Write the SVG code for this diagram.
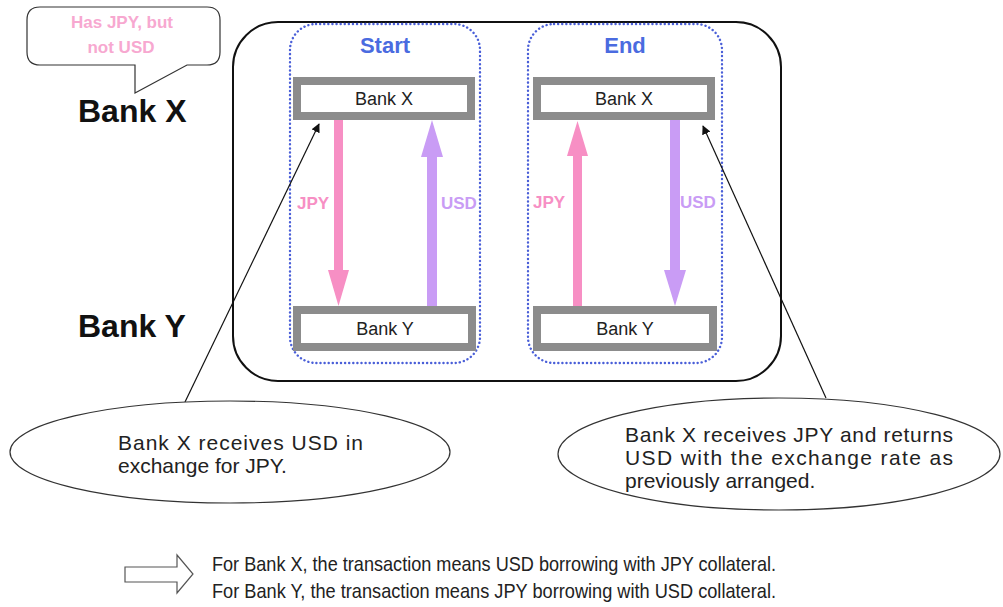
<svg xmlns="http://www.w3.org/2000/svg" width="1003" height="607" viewBox="0 0 1003 607">
<style>
.bank{fill:#fff;stroke:#8c8c8c;stroke-width:8}
.grp{fill:none;stroke:#4a5fd8;stroke-width:2.4;stroke-dasharray:0.1 4;stroke-linecap:round}
.title{font-family:"Liberation Sans",Arial,sans-serif;font-weight:bold;font-size:22px;fill:#4a6be0;text-anchor:middle}
.bt{font-family:"Liberation Sans",Arial,sans-serif;font-size:18px;fill:#222;text-anchor:middle}
.big{font-family:"Liberation Sans",Arial,sans-serif;font-weight:bold;font-size:32px;fill:#111}
.cur{font-family:"Liberation Sans",Arial,sans-serif;font-weight:bold;font-size:17px}
.pink{fill:#f78fc4}
.purp{fill:#c99cf5}
.note{font-family:"Liberation Sans",Arial,sans-serif;font-size:21px;fill:#222}
.ptr{stroke:#111;stroke-width:1.2;fill:none}
</style>
<defs>
<marker id="ah" viewBox="0 0 10 10" refX="9" refY="5" markerWidth="9" markerHeight="9" orient="auto" markerUnits="userSpaceOnUse">
<path d="M0,0 L10,5 L0,10 z" fill="#111"/>
</marker>
</defs>
<rect id="frame" x="233" y="22" width="548" height="359" rx="45" fill="#fff" stroke="#111" stroke-width="2"/>
<g id="bubble">
<path d="M40,7 H207 Q220,7 220,20 V52 Q220,65 207,65 H187 L135,93 L135,65 H40 Q27,65 27,52 V20 Q27,7 40,7 Z" fill="#fff" stroke="#333" stroke-width="1.2"/>
<text class="cur" x="122" y="28" font-size="19" text-anchor="middle" fill="#f7a8d0">Has JPY, but</text>
<text class="cur" x="121" y="53" font-size="19" text-anchor="middle" fill="#f7a8d0">not USD</text>
</g>
<text id="lblX" class="big" x="78" y="122">Bank X</text>
<text id="lblY" class="big" x="78" y="337">Bank Y</text>
<g id="start">
<rect class="grp" x="290" y="24" width="190" height="339" rx="26"/>
<text class="title" x="385" y="53">Start</text>
</g>
<g id="end">
<rect class="grp" x="528" y="24" width="194" height="339" rx="26"/>
<text class="title" x="625" y="53">End</text>
</g>
<g id="connectors">
<path class="pink" d="M334,120 H343 V270 H349 L338.5,306 L328,270 H334 Z"/>
<path class="purp" d="M427,306 H437 V157 H443 L432,120 L421,157 H427 Z"/>
<path class="pink" d="M573,306 H582 V156 H588 L577.5,121 L567,156 H573 Z"/>
<path class="purp" d="M670,120 H680 V270 H686 L675,306 L664,270 H670 Z"/>
<line class="ptr" x1="185" y1="402" x2="319" y2="124" marker-end="url(#ah)"/>
<line class="ptr" x1="826" y1="398" x2="703" y2="126" marker-end="url(#ah)"/>
</g>
<text class="cur pink" x="297" y="209">JPY</text>
<text class="cur purp" x="441" y="209">USD</text>
<text class="cur pink" x="533" y="208">JPY</text>
<text class="cur purp" x="680" y="208">USD</text>
<g id="startX"><rect class="bank" x="297" y="81" width="174" height="35"/><text class="bt" x="384" y="105">Bank X</text></g>
<g id="startY"><rect class="bank" x="297" y="310" width="175" height="37"/><text class="bt" x="385" y="335">Bank Y</text></g>
<g id="endX"><rect class="bank" x="537" y="81" width="174" height="35"/><text class="bt" x="624" y="105">Bank X</text></g>
<g id="endY"><rect class="bank" x="537" y="310" width="176" height="37"/><text class="bt" x="625" y="335">Bank Y</text></g>
<g id="noteL">
<ellipse cx="230" cy="452" rx="220" ry="51" fill="#fff" stroke="#333" stroke-width="1.2"/>
<text class="note" x="118" y="450" textLength="245" lengthAdjust="spacing">Bank X receives USD in</text>
<text class="note" x="118" y="473">exchange for JPY.</text>
</g>
<g id="noteR">
<ellipse cx="779" cy="454" rx="221" ry="56" fill="#fff" stroke="#333" stroke-width="1.2"/>
<text class="note" x="625" y="442" textLength="328" lengthAdjust="spacing">Bank X receives JPY and returns</text>
<text class="note" x="625" y="465" textLength="328" lengthAdjust="spacing">USD with the exchange rate as</text>
<text class="note" x="625" y="488">previously arranged.</text>
</g>
<g id="summary">
<path d="M125,567 H177 V555 L193,574 L177,593 V582 H125 Z" fill="#fff" stroke="#555" stroke-width="1.2"/>
<text class="note" x="212" y="571" font-size="18" textLength="564" lengthAdjust="spacingAndGlyphs">For Bank X, the transaction means USD borrowing with JPY collateral.</text>
<text class="note" x="212" y="598" font-size="18" textLength="564" lengthAdjust="spacingAndGlyphs">For Bank Y, the transaction means JPY borrowing with USD collateral.</text>
</g>
</svg>
